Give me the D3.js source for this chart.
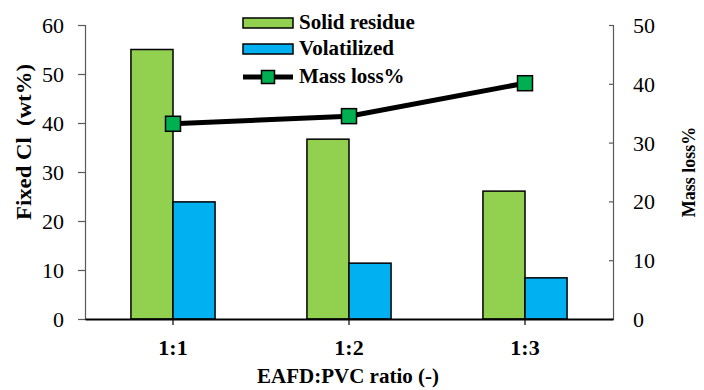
<!DOCTYPE html>
<html><head><meta charset="utf-8">
<script src="https://cdn.jsdelivr.net/npm/d3@7"></script>
<style>body{margin:0;background:#fff}svg{display:block}text{font-family:"Liberation Serif","Times New Roman",serif;fill:#000}</style>
</head><body><svg id="c" width="704" height="390"></svg>
<script>
const categories = ["1:1", "1:2", "1:3"];
const solidResidue = [55.0, 36.7, 26.1];
const volatilized = [23.9, 11.4, 8.4];
const massLoss = [33.2, 34.5, 40.1];
const leftTicks = [0, 10, 20, 30, 40, 50, 60];
const rightTicks = [0, 10, 20, 30, 40, 50];
const seriesNames = ["Solid residue", "Volatilized", "Mass loss%"];
const colors = {solid: "#92D050", vol: "#00B0F0", marker: "#00B050"};

const svg = d3.select("#c");
const m = {l: 85, r: 613, t: 25, b: 319};
const x = d3.scaleBand().domain(categories).range([m.l, m.r]).padding(0);
const yL = d3.scaleLinear().domain([0, 60]).range([m.b, m.t]);
const yR = d3.scaleLinear().domain([0, 50]).range([m.b, m.t]);
const bw = x.step() * 0.239;

// bars
const g = svg.append("g");
categories.forEach((c, i) => {
  const cx = x(c) + x.bandwidth() / 2;
  g.append("rect").attr("x", cx - bw).attr("y", yL(solidResidue[i]))
    .attr("width", bw).attr("height", yL(0) - yL(solidResidue[i]))
    .attr("fill", colors.solid).attr("stroke", "#000").attr("stroke-width", 1.5);
  g.append("rect").attr("x", cx).attr("y", yL(volatilized[i]))
    .attr("width", bw).attr("height", yL(0) - yL(volatilized[i]))
    .attr("fill", colors.vol).attr("stroke", "#000").attr("stroke-width", 1.5);
});

// left axis
const axL = svg.append("g").attr("transform", `translate(${m.l},0)`)
  .call(d3.axisLeft(yL).tickValues(leftTicks).tickSize(7).tickPadding(14).tickFormat(d3.format("d")));
axL.select(".domain").attr("stroke", "#595959").attr("stroke-width", 1.2);
axL.selectAll(".tick line").attr("stroke", "#595959").attr("stroke-width", 1.2);
axL.selectAll("text").style("font-size", "22px").attr("dy", "0.34em");

// right axis
const axR = svg.append("g").attr("transform", `translate(${m.r},0)`)
  .call(d3.axisRight(yR).tickValues(rightTicks).tickSize(-4).tickPadding(20).tickFormat(d3.format("d")));
axR.select(".domain").attr("stroke", "#595959").attr("stroke-width", 1.2);
axR.selectAll(".tick line").attr("stroke", "#595959").attr("stroke-width", 1.2);
axR.selectAll("text").style("font-size", "22px").attr("dy", "0.34em");

// x axis
const axX = svg.append("g").attr("transform", `translate(0,${m.b})`)
  .call(d3.axisBottom(x).tickSize(6).tickPadding(14).tickSizeOuter(0));
axX.select(".domain").attr("stroke", "#000").attr("stroke-width", 2);
axX.selectAll(".tick line").attr("stroke", "#000").attr("stroke-width", 1.2);
axX.selectAll("text").style("font-size", "22px").style("font-weight", "bold").attr("y", 36).attr("dy", 0);

// line
const line = d3.line().x((d, i) => x(categories[i]) + x.bandwidth() / 2).y(d => yR(d));
svg.append("path").datum(massLoss).attr("d", line).attr("fill", "none")
  .attr("stroke", "#000").attr("stroke-width", 5);
svg.selectAll(".mk").data(massLoss).enter().append("rect")
  .attr("x", (d, i) => x(categories[i]) + x.bandwidth() / 2 - 7.5).attr("y", d => yR(d) - 7.5)
  .attr("width", 15).attr("height", 15)
  .attr("fill", colors.marker).attr("stroke", "#000").attr("stroke-width", 1.5);

// axis titles
svg.append("text").attr("transform", "translate(31,142) rotate(-90)").attr("text-anchor", "middle")
  .style("font-size", "20px").style("font-weight", "bold").style("white-space", "pre")
  .attr("textLength", 156).attr("lengthAdjust", "spacingAndGlyphs")
  .text("Fixed Cl  (wt%)");
svg.append("text").attr("transform", "translate(695,172) rotate(-90)").attr("text-anchor", "middle")
  .style("font-size", "18px").style("font-weight", "bold").text("Mass loss%");
svg.append("text").attr("x", 348).attr("y", 383).attr("text-anchor", "middle")
  .style("font-size", "21px").style("font-weight", "bold").text("EAFD:PVC ratio (-)");

// legend
const lg = svg.append("g");
const lx = 243, lw = 50;
lg.append("rect").attr("x", lx).attr("y", 18).attr("width", lw).attr("height", 10)
  .attr("fill", colors.solid).attr("stroke", "#000").attr("stroke-width", 1.5);
lg.append("rect").attr("x", lx).attr("y", 44).attr("width", lw).attr("height", 10)
  .attr("fill", colors.vol).attr("stroke", "#000").attr("stroke-width", 1.5);
lg.append("line").attr("x1", lx).attr("x2", lx + lw).attr("y1", 77).attr("y2", 77)
  .attr("stroke", "#000").attr("stroke-width", 5);
lg.append("rect").attr("x", lx + lw / 2 - 6.5).attr("y", 70.5).attr("width", 13).attr("height", 13)
  .attr("fill", colors.marker).attr("stroke", "#000").attr("stroke-width", 1.5);
[29, 55, 83].forEach((yy, i) => {
  lg.append("text").attr("x", 299).attr("y", yy).style("font-size", "21px").style("font-weight", "bold")
    .text(seriesNames[i]);
});
</script></body></html>
